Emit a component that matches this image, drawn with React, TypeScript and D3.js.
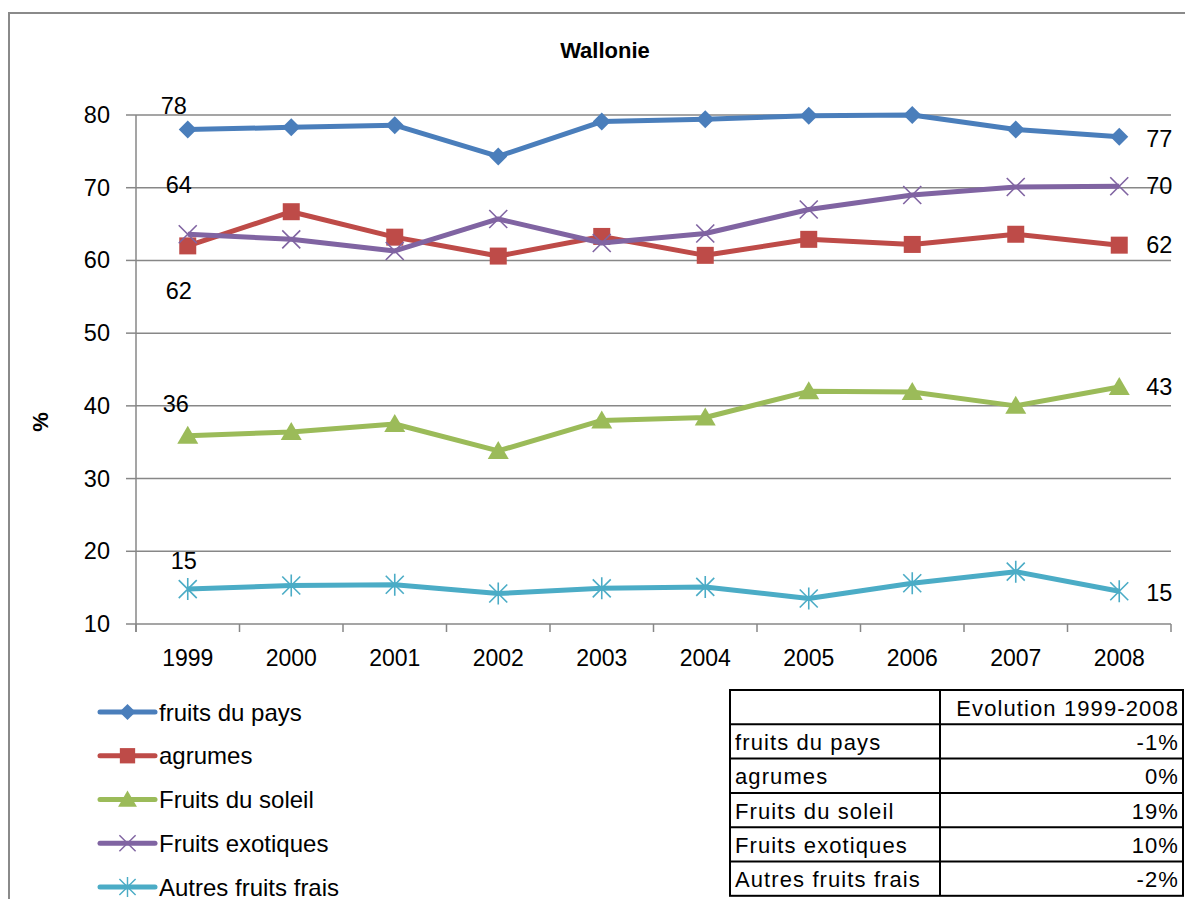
import React from 'react';
import * as d3 from 'd3';

// values (percent)
const years = ["1999", "2000", "2001", "2002", "2003", "2004", "2005", "2006", "2007", "2008"];
const seriesNames = ["fruits du pays", "agrumes", "Fruits du soleil", "Fruits exotiques", "Autres fruits frais"];
const fruitsDuPays = [78.0, 78.3, 78.6, 74.3, 79.1, 79.4, 79.9, 80.0, 78.0, 77.0];
const agrumes = [62.0, 66.7, 63.2, 60.6, 63.3, 60.7, 62.9, 62.2, 63.6, 62.1];
const fruitsSoleil = [35.9, 36.4, 37.5, 33.8, 38.0, 38.4, 42.0, 41.9, 40.0, 42.6];
const fruitsExotiques = [63.6, 62.9, 61.3, 65.7, 62.4, 63.7, 67.0, 69.0, 70.1, 70.2];
const autresFruits = [14.8, 15.3, 15.4, 14.2, 14.9, 15.1, 13.5, 15.6, 17.2, 14.5];
const evolution = ["-1%", "0%", "19%", "10%", "-2%"];
const yTicks = [10, 20, 30, 40, 50, 60, 70, 80];

const colors = ["#4A7EBB", "#BE4B48", "#9BBB59", "#8064A2", "#4BACC6"];
const markers = ["diamond", "square", "triangle", "x", "star"];
// where the first-point label sits relative to the point (Excel moved them by hand)
const firstLabelOffset = [[-14, -24], [-9, 45], [-12, -32], [-9, -49], [-4, -28]];
const lastLabelDy = [2, 0, 0, 0, 2];

const font = "'Liberation Sans', Arial, sans-serif";
const gridColor = "#878787";

function Marker({ kind, color, cx, cy, s = 1 }) {
  const t = `translate(${cx},${cy}) scale(${s})`;
  if (kind === "diamond")
    return <path transform={t} d="M0,-9L9,0L0,9L-9,0Z" fill={color} />;
  if (kind === "square")
    return <rect transform={t} x={-8.5} y={-8.5} width={17} height={17} fill={color} />;
  if (kind === "triangle")
    return <path transform={t} d="M0,-10L10.5,8L-10.5,8Z" fill={color} />;
  if (kind === "x")
    return <path transform={t} d="M-9,-9L9,9M-9,9L9,-9" stroke={color} strokeWidth={1.6} fill="none" />;
  return <path transform={t} d="M-9,-9L9,9M-9,9L9,-9M0,-11L0,11" stroke={color} strokeWidth={1.6} fill="none" />;
}

export default function App() {
  const series = [fruitsDuPays, agrumes, fruitsSoleil, fruitsExotiques, autresFruits];

  const x = d3.scaleBand().domain(years).range([136, 1171]).padding(0);
  const y = d3.scaleLinear().domain([10, 80]).range([624, 115]);
  const cx = (i) => x(years[i]) + x.bandwidth() / 2;
  const line = d3.line().x((d, i) => cx(i)).y(d => y(d));
  const fmt = d3.format(".0f");

  const [x0, x1] = x.range();
  const bandEdges = years.map(yr => x(yr)).concat([x1]);

  const legendY = d3.scalePoint().domain(seriesNames).range([712, 887]);

  const tableTop = 690, rowH = 34.3, tableLeft = 730, tableMid = 940, tableRight = 1183;
  const rowY = (i) => tableTop + rowH * i;

  return (
    <svg width={1185} height={899} style={{ position: "absolute", left: 0, top: 0, background: "#fff" }}
      fontFamily={font}>
      {/* chart frame */}
      <rect x={9} y={13} width={1300} height={1000} fill="none" stroke="#8a8a8a" strokeWidth={2} />

      <text x={605} y={50} textAnchor="middle" dominantBaseline="central" fontSize={22} fontWeight="bold">Wallonie</text>

      {/* gridlines and y axis */}
      {yTicks.map(t => (
        <g key={t}>
          {t !== 10 && <line x1={x0} x2={x1} y1={y(t)} y2={y(t)} stroke={gridColor} strokeWidth={1.5} />}
          <line x1={x0 - 10} x2={x0} y1={y(t)} y2={y(t)} stroke={gridColor} strokeWidth={1.5} />
          <text x={110} y={y(t)} textAnchor="end" dominantBaseline="central" fontSize={23.5}>{t}</text>
        </g>
      ))}
      <line x1={x0} x2={x0} y1={y(80)} y2={y(10) + 8} stroke={gridColor} strokeWidth={1.5} />
      <line x1={x0} x2={x1} y1={y(10)} y2={y(10)} stroke={gridColor} strokeWidth={1.5} />
      {bandEdges.map((bx, i) => (
        <line key={i} x1={bx} x2={bx} y1={y(10)} y2={y(10) + 8} stroke={gridColor} strokeWidth={1.5} />
      ))}
      {years.map((yr, i) => (
        <text key={yr} x={cx(i)} y={658} textAnchor="middle" dominantBaseline="central" fontSize={23}>{yr}</text>
      ))}
      <text transform={`translate(40,422) rotate(-90)`} textAnchor="middle" dominantBaseline="central"
        fontSize={22} fontWeight="bold">%</text>

      {/* series */}
      {series.map((vals, si) => (
        <g key={si}>
          <path d={line(vals)} fill="none" stroke={colors[si]} strokeWidth={5} strokeLinejoin="round" />
          {vals.map((v, i) => (
            <Marker key={i} kind={markers[si]} color={colors[si]} cx={cx(i)} cy={y(v)} />
          ))}
          <text x={cx(0) + firstLabelOffset[si][0]} y={y(vals[0]) + firstLabelOffset[si][1]}
            textAnchor="middle" dominantBaseline="central" fontSize={23.5}>{fmt(vals[0])}</text>
          <text x={cx(vals.length - 1) + 27} y={y(vals[vals.length - 1]) + lastLabelDy[si]}
            dominantBaseline="central" fontSize={23.5}>{fmt(vals[vals.length - 1])}</text>
        </g>
      ))}

      {/* legend */}
      {seriesNames.map((name, si) => (
        <g key={name} transform={`translate(0,${legendY(name)})`}>
          <line x1={100} x2={155} y1={0} y2={0} stroke={colors[si]} strokeWidth={5} strokeLinecap="round" />
          <Marker kind={markers[si]} color={colors[si]} cx={127.5} cy={0} s={0.9} />
          <text x={159} y={0} dominantBaseline="central" fontSize={24}>{name}</text>
        </g>
      ))}

      {/* evolution table */}
      <g fontSize={22} letterSpacing={1.1}>
        <rect x={tableLeft} y={tableTop} width={tableRight - tableLeft} height={rowH * 6} fill="none" stroke="#000" strokeWidth={2} />
        <line x1={tableMid} x2={tableMid} y1={tableTop} y2={rowY(6)} stroke="#000" strokeWidth={2} />
        {d3.range(1, 6).map(i => (
          <line key={i} x1={tableLeft} x2={tableRight} y1={rowY(i)} y2={rowY(i)} stroke="#000" strokeWidth={2} />
        ))}
        <text x={tableRight - 4} y={rowY(0.5) + 1} textAnchor="end" dominantBaseline="central">Evolution 1999-2008</text>
        {seriesNames.map((name, i) => (
          <g key={name}>
            <text x={tableLeft + 5} y={rowY(i + 1.5) + 1} dominantBaseline="central">{name}</text>
            <text x={tableRight - 4} y={rowY(i + 1.5) + 1} textAnchor="end" dominantBaseline="central">{evolution[i]}</text>
          </g>
        ))}
      </g>
    </svg>
  );
}
